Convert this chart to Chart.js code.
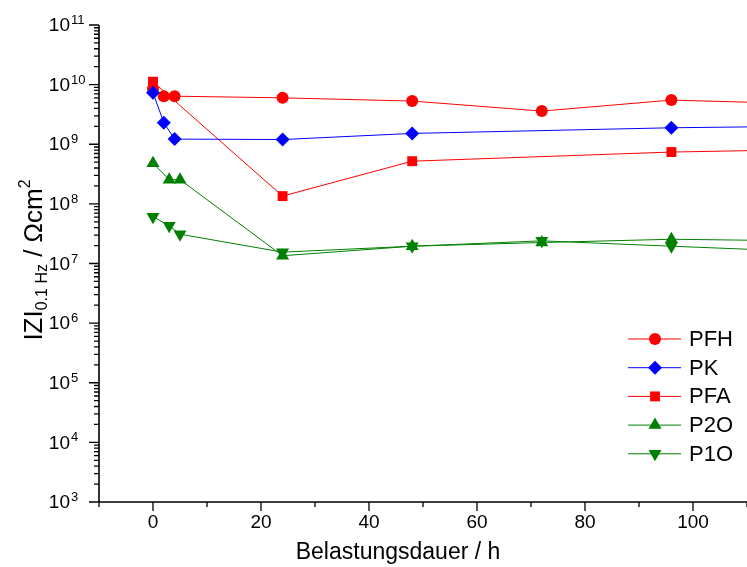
<!DOCTYPE html>
<html><head><meta charset="utf-8">
<script src="https://cdn.jsdelivr.net/npm/chart.js@4/dist/chart.umd.min.js"></script>
<style>html,body{margin:0;padding:0;background:#fff;overflow:hidden}#wrap{width:747px;height:567px;position:relative}</style>
</head><body><div id="wrap"><canvas id="c"></canvas></div>
<script>
// ---- data ----
const seriesNames = ['PFH', 'PK', 'PFA', 'P2O', 'P1O'];
const hoursPFH = [0, 2, 4, 24, 48, 72, 96, 120];
const valuesPFH = [8.5e9, 6.4e9, 6.4e9, 6.0e9, 5.3e9, 3.6e9, 5.5e9, 4.8e9];
const hoursPK = [0, 2, 4, 24, 48, 96, 120];
const valuesPK = [7.3e9, 2.3e9, 1.22e9, 1.2e9, 1.52e9, 1.89e9, 2.0e9];
const hoursPFA = [0, 24, 48, 96, 120];
const valuesPFA = [1.12e10, 1.35e8, 5.2e8, 7.4e8, 8.1e8];
const hoursP2O = [0, 3, 5, 24, 48, 72, 96, 120];
const valuesP2O = [4.8e8, 2.55e8, 2.55e8, 1.35e7, 1.95e7, 2.25e7, 2.55e7, 2.4e7];
const hoursP1O = [0, 3, 5, 24, 48, 72, 96, 120];
const valuesP1O = [6.1e7, 4.3e7, 3.1e7, 1.55e7, 1.95e7, 2.4e7, 1.95e7, 1.6e7];

const xMajorTicks = [0, 20, 40, 60, 80, 100];
const xMinorTicks = [-10, 10, 30, 50, 70, 90, 110];
const yDecadeExponents = [3, 4, 5, 6, 7, 8, 9, 10, 11];
const xAxisTitle = 'Belastungsdauer / h';
const yTitleParts = { main: 'IZI', sub: '0.1 Hz', mid: ' / \u03A9cm', sup: '2' };

// ---- styles ----
const FONT = '"Liberation Sans", Arial, sans-serif';
const RED = '#ff0000', BLUE = '#0000ff', GREEN = '#008000';
const styles = [
  { color: RED, point: 'circle', r: 6, rot: 0, order: 2 },
  { color: BLUE, point: 'rectRot', r: 7, rot: 0, order: 0 },
  { color: RED, point: 'rect', r: 7, rot: 0, order: 1 },
  { color: GREEN, point: 'triangle', r: 7.5, rot: 0, order: 3 },
  { color: GREEN, point: 'triangle', r: 7.5, rot: 180, order: 4 }
];
const hoursAll = [hoursPFH, hoursPK, hoursPFA, hoursP2O, hoursP1O];
const valuesAll = [valuesPFH, valuesPK, valuesPFA, valuesP2O, valuesP1O];

const datasets = seriesNames.map((name, i) => ({
  label: name,
  data: hoursAll[i].map((h, k) => ({ x: h, y: valuesAll[i][k] })),
  borderColor: styles[i].color,
  backgroundColor: styles[i].color,
  borderWidth: 1,
  pointStyle: styles[i].point,
  pointRadius: styles[i].r,
  pointRotation: styles[i].rot,
  pointBackgroundColor: styles[i].color,
  pointBorderColor: styles[i].color,
  pointBorderWidth: 0,
  tension: 0,
  order: styles[i].order
}));

function txt(ctx, s, x, y, size, align, base) {
  ctx.save();
  ctx.font = size + 'px ' + FONT;
  ctx.fillStyle = '#000';
  ctx.textAlign = align; ctx.textBaseline = base;
  ctx.fillText(s, x, y);
  ctx.restore();
}

function drawMarker(ctx, st, x, y) {
  const r = st.r;
  ctx.save();
  ctx.fillStyle = st.color;
  ctx.beginPath();
  if (st.point === 'circle') {
    ctx.arc(x, y, r, 0, Math.PI * 2);
  } else if (st.point === 'rectRot') {
    ctx.moveTo(x, y - r); ctx.lineTo(x + r, y); ctx.lineTo(x, y + r); ctx.lineTo(x - r, y);
  } else if (st.point === 'rect') {
    const s = r * Math.SQRT1_2;
    ctx.rect(x - s, y - s, 2 * s, 2 * s);
  } else if (st.point === 'triangle') {
    const sgn = st.rot === 180 ? -1 : 1;
    ctx.moveTo(x, y - sgn * r);
    ctx.lineTo(x + 0.866 * r, y + sgn * r / 2);
    ctx.lineTo(x - 0.866 * r, y + sgn * r / 2);
  }
  ctx.closePath();
  ctx.fill();
  ctx.restore();
}

const axesPlugin = {
  id: 'originAxes',
  afterDraw(chart) {
    const ctx = chart.ctx;
    const xs = chart.scales.x, ys = chart.scales.y;
    const a = chart.chartArea;
    ctx.save();
    ctx.strokeStyle = '#000';
    ctx.lineWidth = 1.6;
    ctx.beginPath();
    ctx.moveTo(a.left, a.top); ctx.lineTo(a.left, a.bottom);
    ctx.moveTo(a.left, a.bottom); ctx.lineTo(a.right, a.bottom);
    ctx.stroke();
    ctx.lineWidth = 1.3;
    ctx.beginPath();
    yDecadeExponents.forEach((e, idx) => {
      const py = ys.getPixelForValue(Math.pow(10, e));
      ctx.moveTo(a.left - 10, py); ctx.lineTo(a.left, py);
      if (idx < yDecadeExponents.length - 1) {
        for (let m = 2; m <= 9; m++) {
          const pm = ys.getPixelForValue(m * Math.pow(10, e));
          ctx.moveTo(a.left - 5, pm); ctx.lineTo(a.left, pm);
        }
      }
    });
    xMajorTicks.forEach(v => {
      const px = xs.getPixelForValue(v);
      ctx.moveTo(px, a.bottom); ctx.lineTo(px, a.bottom + 9);
    });
    xMinorTicks.forEach(v => {
      const px = xs.getPixelForValue(v);
      ctx.moveTo(px, a.bottom); ctx.lineTo(px, a.bottom + 5);
    });
    ctx.stroke();
    yDecadeExponents.forEach(e => {
      const py = ys.getPixelForValue(Math.pow(10, e));
      txt(ctx, '10', 70, py + 1, 19, 'right', 'middle');
      txt(ctx, String(e), 71, py - 1, 13, 'left', 'alphabetic');
    });
    xMajorTicks.forEach(v => {
      txt(ctx, String(v), xs.getPixelForValue(v), a.bottom + 21, 19, 'center', 'middle');
    });
    txt(ctx, xAxisTitle, 398, 553, 23, 'center', 'middle');
    // y title (rotated)
    ctx.save();
    ctx.translate(42, 260);
    ctx.rotate(-Math.PI / 2);
    ctx.fillStyle = '#000';
    ctx.textBaseline = 'alphabetic'; ctx.textAlign = 'left';
    const big = '26px ' + FONT, small = '16px ' + FONT;
    ctx.font = big; const w1 = ctx.measureText(yTitleParts.main).width;
    const w3 = ctx.measureText(yTitleParts.mid).width;
    ctx.font = small; const w2 = ctx.measureText(yTitleParts.sub).width;
    const w4 = ctx.measureText(yTitleParts.sup).width;
    let cx = -(w1 + w2 + w3 + w4) / 2;
    ctx.font = big; ctx.fillText(yTitleParts.main, cx, 0); cx += w1;
    ctx.font = small; ctx.fillText(yTitleParts.sub, cx, 5); cx += w2;
    ctx.font = big; ctx.fillText(yTitleParts.mid, cx, 0); cx += w3;
    ctx.font = small; ctx.fillText(yTitleParts.sup, cx, -12);
    ctx.restore();
    // legend
    seriesNames.forEach((name, i) => {
      const ly = 339 + i * 28.7;
      ctx.save();
      ctx.strokeStyle = styles[i].color; ctx.lineWidth = 1;
      ctx.beginPath(); ctx.moveTo(628, ly); ctx.lineTo(681, ly); ctx.stroke();
      ctx.restore();
      drawMarker(ctx, styles[i], 655, ly);
      txt(ctx, name, 689, ly + 1, 22, 'left', 'middle');
    });
    ctx.restore();
  }
};

new Chart(document.getElementById('c'), {
  type: 'line',
  data: { datasets },
  options: {
    responsive: true,
    maintainAspectRatio: false,
    animation: false,
    events: [],
    layout: { autoPadding: false, padding: { left: 99, top: 25, right: 0, bottom: 65 } },
    plugins: { legend: { display: false }, tooltip: { enabled: false }, title: { display: false } },
    scales: {
      x: { type: 'linear', min: -10, max: 110, display: false },
      y: { type: 'logarithmic', min: 1e3, max: 1e11, display: false }
    }
  },
  plugins: [axesPlugin]
});
</script>
</body></html>
